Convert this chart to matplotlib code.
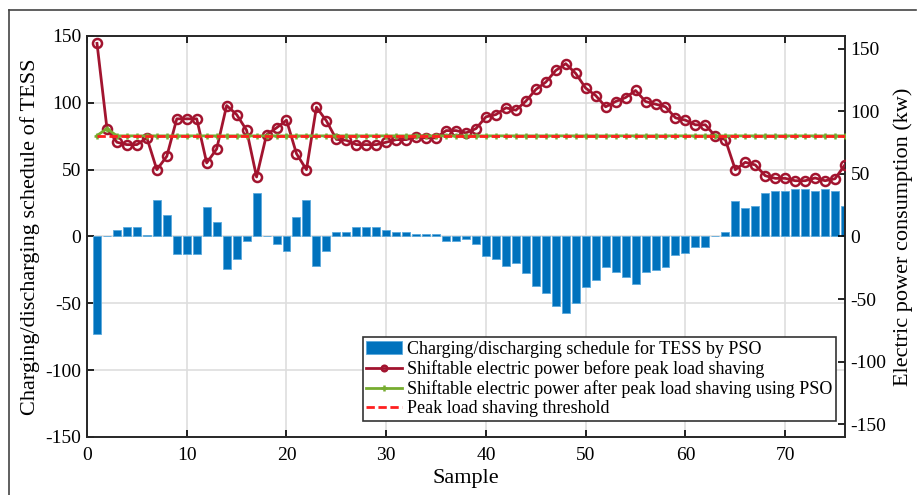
import numpy as np
import matplotlib
matplotlib.use("Agg")
import matplotlib.pyplot as plt
from matplotlib.lines import Line2D

plt.rcParams['font.family'] = ['Liberation Serif', 'DejaVu Serif']
plt.rcParams['mathtext.fontset'] = 'stix'
plt.rcParams['axes.unicode_minus'] = False

samples = list(range(1, 77))

tess_schedule = [
    -73.2, 0.0, 5.0, 7.0, 7.0, 1.2, 27.2, 16.2, -13.2, -13.2,
    -13.2, 21.7, 11.0, -24.0, -16.5, -3.7, 32.7, 0.3, -5.7, -11.2,
    14.5, 27.2, -22.0, -11.2, 3.2, 3.2, 7.2, 7.2, 7.2, 5.0,
    3.2, 3.2, 1.5, 1.5, 1.5, -3.7, -3.7, -1.8, -5.7, -14.5,
    -16.5, -22.2, -20.2, -27.5, -36.7, -42.2, -51.7, -57.5, -49.5, -37.7,
    -32.2, -23.0, -26.7, -30.2, -35.7, -26.7, -24.7, -23.0, -13.7, -12.0,
    -8.2, -8.2, 0.7, 3.4, 26.7, 21.2, 23.0, 32.5, 34.0, 34.0,
    35.7, 35.7, 34.0, 35.7, 34.0, 23.0,
]

power_before = [
    154.1, 86.1, 75.2, 73.3, 73.3, 78.7, 53.3, 64.0, 93.9, 93.9,
    93.9, 58.7, 69.9, 104.5, 97.3, 84.8, 47.5, 81.3, 86.7, 92.8,
    66.1, 53.3, 103.2, 92.3, 77.5, 76.8, 73.3, 73.3, 73.3, 75.2,
    77.3, 77.3, 79.5, 78.7, 78.7, 84.5, 84.5, 82.7, 86.1, 95.5,
    97.3, 102.7, 100.8, 108.0, 117.3, 123.2, 132.5, 137.9, 130.1, 118.4,
    112.5, 103.5, 107.7, 110.9, 116.5, 107.7, 105.6, 103.5, 94.7, 92.8,
    89.1, 89.1, 80.0, 77.3, 53.3, 59.2, 57.1, 48.5, 46.4, 46.4,
    44.5, 44.5, 46.7, 44.5, 46.1, 57.3,
]

power_after = [80.5, 86.1] + [80.3] * 74

threshold = [80.0] * 76

xticks = [0, 10, 20, 30, 40, 50, 60, 70]
yticks_left = [-150, -100, -50, 0, 50, 100, 150]
yticks_right = [-150, -100, -50, 0, 50, 100, 150]

fig = plt.figure(figsize=(9.18, 4.95), dpi=100)
ax = fig.add_axes([0.0948, 0.1172, 0.8257, 0.8101])
ax2 = ax.twinx()

bars = ax.bar(samples, tess_schedule, width=0.8, color='#0072BD',
              edgecolor='#5aa9dc', linewidth=0.6, zorder=2,
              label='Charging/discharging schedule for TESS by PSO')
ax.set_xlim(0, 76)
ax.set_ylim(-150, 150)
ax.set_xticks(xticks)
ax.set_yticks(yticks_left)
ax.grid(True, color='#dedede', linewidth=1.2, zorder=0)
ax.set_axisbelow(True)
ax.tick_params(axis='both', direction='in', length=5, width=1.2,
               labelsize=14, top=True, right=False, pad=4)
ax.tick_params(axis='x', pad=7)
ax.set_xlabel('Sample', fontsize=16, labelpad=4)

fig.text(30 / 918, 0.5 * (0.1172 + 0.9273), 'Charging/discharging schedule of TESS',
         rotation=90, ha='center', va='center', fontsize=16)

l1, = ax2.plot(samples, power_before, color='#A2142F', lw=2, marker='o',
               markersize=6.5, markerfacecolor='none', markeredgewidth=1.8,
               label='Shiftable electric power before peak load shaving', zorder=3)
l2, = ax2.plot(samples, power_after, color='#77AC30', lw=2, marker='+',
               markersize=5, markeredgewidth=1.8,
               label='Shiftable electric power after peak load shaving using PSO', zorder=4)
l3, = ax2.plot(samples, threshold, color='#FF1F1F', lw=2, linestyle=(0, (3, 1.3)),
               label='Peak load shaving threshold', zorder=5)
ax2.set_ylim(-160, 160)
ax2.set_yticks(yticks_right)
ax2.tick_params(axis='y', direction='in', length=5, width=1.2, labelsize=14, pad=4)

fig.text(903 / 918, 0.5 * (0.1172 + 0.9273), 'Electric power consumption (kw)',
         rotation=90, ha='center', va='center', fontsize=16)

for a in (ax, ax2):
    for s in a.spines.values():
        s.set_color('#262626')
        s.set_linewidth(1.2)

leg = ax2.legend(handles=[bars, l1, l2, l3], loc='lower right',
                 bbox_to_anchor=(0.988, 0.04), borderaxespad=0,
                 fontsize=13, frameon=True, fancybox=False, framealpha=1,
                 edgecolor='#333333', handlelength=2.0, handletextpad=0.25,
                 labelspacing=0.12, borderpad=0.2)
leg.get_frame().set_linewidth(1.2)
for h in leg.legend_handles:
    if isinstance(h, Line2D):
        h.set_markersize(4)

# outer frame
for xs, ys in [((0.0098, 0.0098), (0.0, 0.9798)),
               ((0.0098, 0.998), (0.9798, 0.9798))]:
    fig.add_artist(Line2D(xs, ys, transform=fig.transFigure, color='#444444', lw=1.2))

fig.savefig('out.png', dpi=100)
